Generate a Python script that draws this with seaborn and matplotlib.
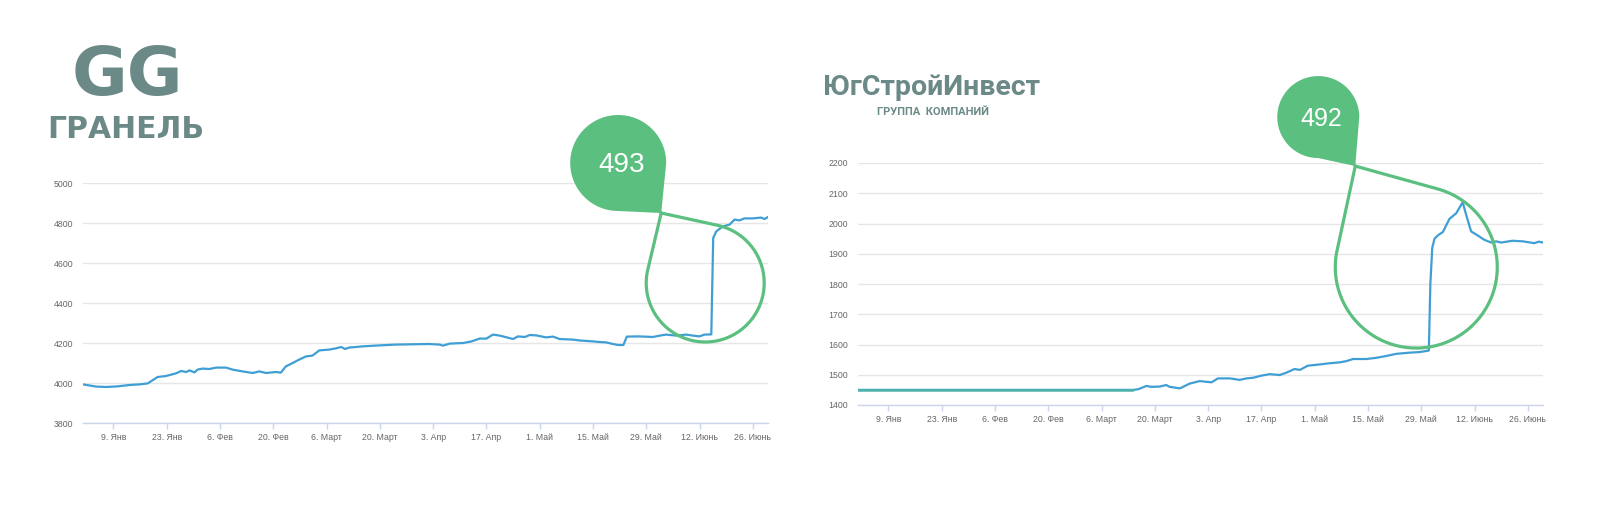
import numpy as np
import pandas as pd
import matplotlib
matplotlib.use('Agg')
import matplotlib.pyplot as plt
import matplotlib.dates as mdates
import matplotlib.transforms as mtransforms
from matplotlib.patches import Polygon
import seaborn as sns

START = pd.Timestamp('2017-01-01')

# x axis ticks (shared by both charts)
tick_dates = ['2017-01-09', '2017-01-23', '2017-02-06', '2017-02-20', '2017-03-06',
              '2017-03-20', '2017-04-03', '2017-04-17', '2017-05-01', '2017-05-15',
              '2017-05-29', '2017-06-12', '2017-06-26']
tick_labels = ['9. Янв', '23. Янв', '6. Фев', '20. Фев', '6. Март', '20. Март',
               '3. Апр', '17. Апр', '1. Май', '15. Май', '29. Май', '12. Июнь', '26. Июнь']

# Гранель: days since 1 Jan, value
granel_days = [0, 3.5, 6.1, 9, 12.2, 14.8, 17, 18.8, 19.6, 21.8, 24.4, 25.8, 27.1, 28, 29.3,
               30.1, 31.4, 33.2, 35, 37.6, 39.3, 41.9, 44.6, 46.3, 48.1, 50.7, 52, 53.3, 55.1,
               56.8, 58.6, 60.3, 62.1, 64.7, 66.4, 67.8, 68.9, 69.9, 73.4, 77.8, 82.2, 90.9,
               93.7, 94.6, 96.4, 99.9, 102.1, 104.2, 106, 107.7, 109.5, 113, 114.3, 116.1,
               117.4, 119.1, 121.7, 123.5, 125.2, 128.7, 130.9, 134, 135.7, 137.5, 139.2,
               140.6, 142, 142.9, 146.2, 149.7, 151.9, 153.2, 155.9, 158.5, 160.2, 162, 163.3,
               165.1, 165.6, 166.4, 168.1, 169.9, 171.2, 172.5, 173.8, 176, 178.2, 179.1, 180]
granel_values = [3993, 3982, 3980, 3983, 3990, 3993, 3998, 4020, 4030, 4035, 4048, 4060, 4055,
                 4063, 4053, 4067, 4072, 4070, 4077, 4077, 4067, 4058, 4050, 4058, 4050, 4055,
                 4052, 4083, 4100, 4117, 4133, 4137, 4163, 4167, 4173, 4180, 4170, 4177, 4183,
                 4188, 4192, 4195, 4192, 4187, 4197, 4200, 4208, 4222, 4222, 4242, 4237, 4220,
                 4233, 4230, 4240, 4238, 4228, 4232, 4220, 4217, 4212, 4208, 4205, 4203, 4195,
                 4190, 4190, 4232, 4233, 4230, 4238, 4242, 4237, 4242, 4237, 4233, 4242, 4243,
                 4725, 4758, 4783, 4792, 4817, 4813, 4823, 4823, 4827, 4820, 4830]

# ЮгСтройИнвест: days since 1 Jan, value
ysi_days = [0, 72.3, 73.6, 75.8, 77.1, 79.3, 81, 81.9, 84.6, 87.2, 89.8, 92.9, 94.6, 97.7,
            100.3, 102.1, 103.8, 106, 108.2, 110.8, 112.6, 114.7, 116.1, 118.2, 121.3, 123.9,
            126.6, 128.3, 130.1, 133.6, 136.2, 138.8, 141.4, 144.9, 147.6, 150, 150.4, 150.9,
            151.5, 152.5, 153.7, 155.4, 157.2, 158.9, 159.8, 161.1, 162.9, 164.6, 166.4, 167.7,
            169, 172, 174.7, 177.7, 178.9, 180]
ysi_values = [1450, 1450, 1452, 1463, 1460, 1461, 1466, 1460, 1455, 1471, 1479, 1475, 1488,
              1488, 1483, 1488, 1490, 1497, 1502, 1499, 1507, 1519, 1516, 1530, 1534, 1538,
              1541, 1545, 1552, 1552, 1556, 1562, 1569, 1573, 1575, 1580, 1800, 1920, 1950,
              1962, 1972, 2015, 2034, 2070, 2029, 1974, 1960, 1946, 1937, 1941, 1937, 1943,
              1941, 1935, 1940, 1937]
ysi_flat_points = 2  # the first stretch is drawn in teal

granel_yticks = [3800, 4000, 4200, 4400, 4600, 4800, 5000]
ysi_yticks = [1400, 1500, 1600, 1700, 1800, 1900, 2000, 2100, 2200]

LINE = '#3f9fd4'
TEAL = '#4fb3a9'
GREEN = '#5bbf80'
LOGO = '#6b8986'

sns.set_style('white')
plt.rcParams['font.family'] = ['Liberation Sans', 'DejaVu Sans']

df_g = pd.DataFrame({'date': START + pd.to_timedelta(granel_days, unit='D'), 'value': granel_values})
df_y = pd.DataFrame({'date': START + pd.to_timedelta(ysi_days, unit='D'), 'value': ysi_values})

fig = plt.figure(figsize=(16, 5.12), dpi=100)
ax_l = fig.add_axes([83 / 1600, 1 - 423 / 512, 685 / 1600, 240 / 512])
ax_r = fig.add_axes([858 / 1600, 1 - 405 / 512, 685 / 1600, 242 / 512])


def style_axis(ax, yticks):
    ax.set_xlim(START, START + pd.Timedelta(days=180))
    ax.set_ylim(yticks[0], yticks[-1])
    ax.set_yticks(yticks)
    ax.set_xticks(pd.to_datetime(tick_dates))
    ax.set_xticklabels(tick_labels)
    ax.set_axisbelow(True)
    ax.grid(axis='y', color='#e6e6e6', lw=1)
    ax.grid(axis='x', visible=False)
    for s in ['top', 'left', 'right']:
        ax.spines[s].set_visible(False)
    ax.spines['bottom'].set_color('#ccd6eb')
    ax.spines['bottom'].set_linewidth(1)
    ax.tick_params(axis='x', bottom=True, length=4, width=1, color='#ccd6eb', labelsize=6.3,
                   labelcolor='#666666', pad=3)
    ax.tick_params(axis='y', length=0, labelsize=6.3, labelcolor='#666666', pad=7)
    ax.set_xlabel('')
    ax.set_ylabel('')


def callout(ax, anchor, ring_r, pin_off, pin_r, tip, label, size):
    # balloon drawn in pixel units around a data anchor
    fig = ax.figure
    tr = (mtransforms.Affine2D().scale(1 / fig.dpi) + fig.dpi_scale_trans
          + mtransforms.ScaledTranslation(mdates.date2num(START + pd.Timedelta(days=anchor[0])),
                                          anchor[1], ax.transData))
    px, py = pin_off[0] + tip[0], pin_off[1] + tip[1]
    d = np.hypot(px, py)
    phi = np.arctan2(py, px)
    a = np.arccos(ring_r / d)
    th = np.linspace(phi + a, phi + 2 * np.pi - a, 200)
    xs = np.r_[px, ring_r * np.cos(th), px]
    ys = np.r_[py, ring_r * np.sin(th), py]
    ax.plot(xs, ys, transform=tr, color=GREEN, lw=2.3, clip_on=False, zorder=4,
            solid_joinstyle='round')
    th = np.linspace(0, 1.5 * np.pi, 120)
    vx = np.r_[pin_off[0] + pin_r * np.cos(th), px]
    vy = np.r_[pin_off[1] + pin_r * np.sin(th), py]
    ax.add_patch(Polygon(np.column_stack([vx, vy]), closed=True, transform=tr, fc=GREEN,
                         ec='none', clip_on=False, zorder=5))
    ax.text(pin_off[0] + 3, pin_off[1] - 2, label, transform=tr, ha='center', va='center',
            color='white', fontsize=size, family=['Liberation Sans'], zorder=6)


sns.lineplot(data=df_g, x='date', y='value', ax=ax_l, color=LINE, linewidth=1.6)
sns.lineplot(data=df_y, x='date', y='value', ax=ax_r, color=LINE, linewidth=1.6)
sns.lineplot(data=df_y.iloc[:ysi_flat_points], x='date', y='value', ax=ax_r, color=TEAL,
             linewidth=1.8)
style_axis(ax_l, granel_yticks)
style_axis(ax_r, ysi_yticks)

callout(ax_l, (163.5, 4500), 59, (-87, 120), 48, (43, -50), '493', 20)
callout(ax_r, (146.7, 1856), 81, (-98, 150), 41, (37, -49), '492', 18)

# logos
fig.text(72 / 1600, 1 - 95 / 512, 'GG', color=LOGO, fontsize=49, fontweight='bold',
         family=['DejaVu Sans'], ha='left', va='baseline')
fig.text(47 / 1600, 1 - 138 / 512, 'ГРАНЕЛЬ', color=LOGO, fontsize=21.5, fontweight='bold',
         family=['DejaVu Sans'], ha='left', va='baseline')
fig.text(823 / 1600, 1 - 95 / 512, 'ЮгСтройИнвест', color=LOGO, fontsize=20.5, fontweight='bold',
         family=['Roboto', 'DejaVu Sans'], ha='left', va='baseline')
fig.text(877 / 1600, 1 - 115 / 512, 'ГРУППА  КОМПАНИЙ', color=LOGO, fontsize=8, fontweight='bold',
         family=['Roboto', 'DejaVu Sans'], ha='left', va='baseline')

fig.savefig('out.png', dpi=100, facecolor='white')
